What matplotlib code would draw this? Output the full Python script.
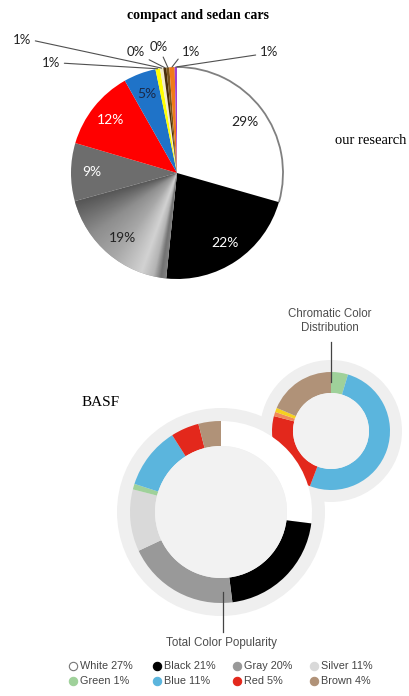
import numpy as np
import matplotlib.pyplot as plt
from matplotlib.patches import Circle, Arc
from matplotlib.colors import LinearSegmentedColormap

W, H = 409, 696

# "our research" pie (compact and sedan cars), clockwise from 12 o'clock
car_labels = ['29%', '22%', '19%', '9%', '12%', '5%', '1%', '1%', '0%', '0%', '1%', '1%']
car_values = [29.3, 22.1, 19.0, 8.8, 12.2, 4.9, 0.7, 0.5, 0.45, 0.45, 0.8, 0.35]
car_colors = ['#ffffff', '#000000', '#a0a0a0', '#6d6d6d', '#ff0000', '#1f73c8',
              '#ffff00', '#f3ecc8', '#4a2e08', '#7a5418', '#f07a1a', '#a040d0']
car_text_colors = ['#222222', 'white', '#222222', 'white', 'white', '#1a2a4a']

# BASF total colour popularity, clockwise from 12 o'clock
basf_names = ['White', 'Black', 'Gray', 'Silver', 'Green', 'Blue', 'Red', 'Brown']
basf_values = [27, 21, 20, 11, 1, 11, 5, 4]
basf_colors = ['#ffffff', '#000000', '#999999', '#d9d9d9', '#9fd19a', '#5bb5dd', '#e3281c', '#b09278']

# BASF chromatic colour distribution
chrom_values = [1, 11, 5, 0.25, 0.25, 4]
chrom_colors = ['#9fd19a', '#5bb5dd', '#e3281c', '#f08a5a', '#f5d020', '#b09278']


def P(x, y):
    return (x, H - y)


fig = plt.figure(figsize=(W / 100, H / 100), dpi=100)
ax = fig.add_axes([0, 0, 1, 1])

# ---- top pie
c1, r1 = P(177, 173), 106
wedges, _ = ax.pie(car_values, colors=car_colors, startangle=90, counterclock=False,
                   center=c1, radius=r1, wedgeprops=dict(linewidth=0))
w0 = wedges[0]
ax.add_patch(Arc(c1, 2 * r1, 2 * r1, theta1=w0.theta1, theta2=w0.theta2,
                 color='#808080', lw=1.3, zorder=3))

# gradient fill on the silver slice
ws = wedges[2]
gx = np.linspace(c1[0] - r1, c1[0] + r1, 300)
gy = np.linspace(c1[1] - r1, c1[1] + r1, 300)
XX, YY = np.meshgrid(gx, gy)
ang = np.degrees(np.arctan2(YY - c1[1], XX - c1[0]))
t = ((ang - ws.theta1) % 360) / (ws.theta2 - ws.theta1)
grad = LinearSegmentedColormap.from_list('g', [(0, '#555555'), (0.3, '#8e8e8e'), (0.55, '#a8a8a8'),
                                               (0.8, '#d2d2d2'), (0.9, '#b4b4b4'), (0.96, '#727272'),
                                               (1, '#808080')])
im = ax.imshow(np.clip(t, 0, 1), cmap=grad, origin='lower', vmin=0, vmax=1,
               extent=(gx[0], gx[-1], gy[0], gy[-1]), zorder=2, interpolation='bilinear')
im.set_clip_path(ws)

for w, lbl, tc in zip(wedges[:6], car_labels[:6], car_text_colors):
    mid = np.radians((w.theta1 + w.theta2) / 2)
    ax.text(c1[0] + 0.8 * r1 * np.cos(mid), c1[1] + 0.8 * r1 * np.sin(mid), lbl,
            ha='center', va='center', fontsize=10, color=tc, family='Lato', zorder=4)

# leader labels for the thin slices
small_pos = [(51, 63), (22, 40), (136, 52), (159, 47), (191, 52), (269, 52)]
small_rel = [(1, 0.5), (1, 0.5), (0.9, 0.1), (0.6, 0.1), (0, 0.3), (0, 0.3)]
for w, lbl, pos, rel in zip(wedges[6:], car_labels[6:], small_pos, small_rel):
    mid = np.radians((w.theta1 + w.theta2) / 2)
    edge = (c1[0] + r1 * np.cos(mid), c1[1] + r1 * np.sin(mid))
    ax.annotate(lbl, xy=edge, xytext=P(*pos), ha='center', va='center', fontsize=9.5,
                family='Lato', color='#222222', zorder=4,
                arrowprops=dict(arrowstyle='-', color='#505050', lw=0.8,
                                shrinkA=1, shrinkB=0, relpos=rel))

ax.text(*P(198, 15), 'compact and sedan cars', ha='center', va='center',
        fontsize=10, fontweight='bold', family='Liberation Serif')
ax.text(*P(371, 141), 'our research', ha='center', va='center',
        fontsize=10.5, family='Liberation Serif')

# ---- BASF donuts
cL, cS = P(221, 512), P(331, 431)
ax.add_patch(Circle(cL, 104, color='#efefef', lw=0, zorder=1))
ax.add_patch(Circle(cS, 71, color='#efefef', lw=0, zorder=1))

ws_small, _ = ax.pie(chrom_values, colors=chrom_colors, startangle=90, counterclock=False,
                     center=cS, radius=59, wedgeprops=dict(width=21, linewidth=0))
for w in ws_small:
    w.set_zorder(2)
ax.add_patch(Circle(cS, 38, color='#f2f2f2', lw=0, zorder=2.5))

ws_large, _ = ax.pie(basf_values, colors=basf_colors, startangle=90, counterclock=False,
                     center=cL, radius=91, wedgeprops=dict(width=25, linewidth=0))
for w in ws_large:
    w.set_zorder(3)
ax.add_patch(Circle(cL, 66, color='#f2f2f2', lw=0, zorder=3.5))

ax.text(*P(101, 402), 'BASF', ha='center', va='center', fontsize=11, family='Liberation Serif')

ax.plot(*zip(P(331, 342), P(331, 382)), color='#444444', lw=0.9, zorder=5)
ax.text(*P(330, 321), 'Chromatic Color\nDistribution', ha='center', va='center',
        fontsize=8.3, color='#4d4d4d', family='Liberation Sans', linespacing=1.2)
ax.plot(*zip(P(223, 592), P(223, 632)), color='#444444', lw=0.9, zorder=5)
ax.text(*P(222, 643), 'Total Color Popularity', ha='center', va='center',
        fontsize=8.4, color='#4d4d4d', family='Liberation Sans')

# legend
col_x = [73, 157, 237, 314]
row_y = [666, 681]
for i, (name, val, col) in enumerate(zip(basf_names, basf_values, basf_colors)):
    x, y = col_x[i % 4], row_y[i // 4]
    ax.plot(*P(x, y), 'o', ms=6, mfc=col, mec='#777777' if col == '#ffffff' else col,
            mew=0.8, zorder=5)
    ax.text(*P(x + 7, y), f'{name} {val}%', ha='left', va='center', fontsize=7.8,
            color='#444444', family='Liberation Sans')

ax.set_xlim(0, W)
ax.set_ylim(0, H)
ax.set_aspect('equal')
ax.axis('off')
fig.savefig('out.png', dpi=100)
